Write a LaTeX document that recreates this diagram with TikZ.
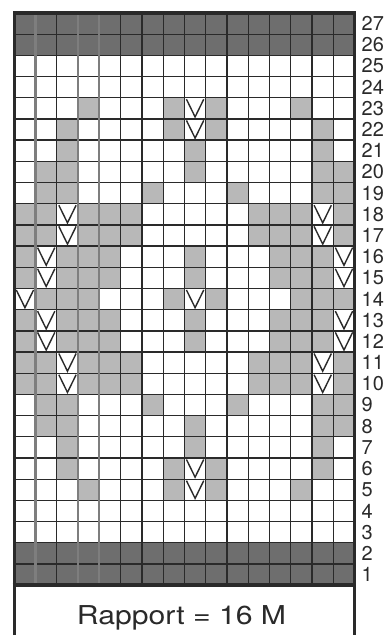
\documentclass[tikz,border=0pt]{standalone}
\usepackage{fontspec}
\setmainfont{TeX Gyre Heros}
\definecolor{darkrow}{HTML}{6E6E6E}
\definecolor{lightcell}{HTML}{B8B8B8}
\definecolor{gridline}{HTML}{2A2A2A}
\definecolor{bandline}{HTML}{7E7E7E}
\begin{document}
\begin{tikzpicture}[x=1pt,y={(0pt,-1pt)},
  graycell/.style={fill=lightcell},
  darkcell/.style={fill=darkrow},
  gridrule/.style={draw=gridline,line width=1.3pt},
  bandrule/.style={draw=bandline,line width=2.2pt},
  frame/.style={draw=gridline,line width=3.6pt},
  vmark/.style={draw=gridline,line width=1.4pt,line join=miter},
  rownum/.style={anchor=west,inner sep=0pt,font=\fontsize{20}{21}\selectfont,text=gridline},
  caption/.style={inner sep=0pt,font=\fontsize{26}{28}\selectfont,text=gridline}]
\def\xo{14.3}\def\yo{13}\def\cw{21.27}\def\ch{21.19}
\useasboundingbox (0,0) rectangle (388,640);
\fill[white] (0,0) rectangle (388,640);
% dark rows
\foreach \r in {1,2,26,27}{
  \pgfmathsetmacro\yt{\yo+(27-\r)*\ch}
  \fill[darkcell] (\xo,\yt) rectangle ({\xo+16*\cw},{\yt+\ch});
}
% light gray cells
\foreach \r/\cs in {
  23/{4,8,10,14}, 22/{3,8,10,15}, 21/{3,9,15}, 20/{2,3,9,15,16},
  19/{2,3,7,11,15,16}, 18/{1,2,4,5,6,12,13,14,16}, 17/{1,2,4,5,6,12,13,14,16},
  16/{1,3,4,5,9,13,14,15}, 15/{1,3,4,5,9,13,14,15},
  14/{2,3,4,8,10,14,15,16},
  13/{1,3,4,5,9,13,14,15}, 12/{1,3,4,5,9,13,14,15},
  11/{1,2,4,5,6,12,13,14,16}, 10/{1,2,4,5,6,12,13,14,16},
  9/{2,3,7,11,15,16}, 8/{2,3,9,15,16}, 7/{3,9,15},
  6/{3,8,10,15}, 5/{4,8,10,14}}{
  \foreach \c in \cs {
    \pgfmathsetmacro\xl{\xo+(\c-1)*\cw}
    \pgfmathsetmacro\yt{\yo+(27-\r)*\ch}
    \fill[graycell] (\xl,\yt) rectangle ({\xl+\cw},{\yt+\ch});
  }
}
% grid lines
\foreach \r in {1,...,26}{
  \pgfmathsetmacro\yy{\yo+\r*\ch}
  \draw[gridrule] (\xo,\yy) -- ({\xo+16*\cw},\yy);
}
\foreach \c in {2,5,6,7,8,9,10,11,12,13,14,15}{
  \pgfmathsetmacro\xx{\xo+\c*\cw}
  \draw[gridrule] (\xx,\yo) -- (\xx,{\yo+27*\ch});
}
\foreach \c in {1,3,4}{
  \pgfmathsetmacro\xx{\xo+\c*\cw}
  \draw[bandrule] (\xx,\yo) -- (\xx,{\yo+27*\ch});
}
% V marks
\foreach \r/\cs in {
  23/{9}, 22/{9}, 18/{3,15}, 17/{3,15}, 16/{2,16}, 15/{2,16},
  14/{1,9}, 13/{2,16}, 12/{2,16}, 11/{3,15}, 10/{3,15}, 6/{9}, 5/{9}}{
  \foreach \c in \cs {
    \pgfmathsetmacro\xl{\xo+(\c-1)*\cw}
    \pgfmathsetmacro\yt{\yo+(27-\r)*\ch}
    \draw[vmark] ({\xl+2},{\yt+1.5}) -- ({\xl+\cw/2},{\yt+\ch-2}) -- ({\xl+\cw-2},{\yt+1.5});
  }
}
% frame
\draw[frame,line join=miter] (\xo,635) -- (\xo,\yo) -- ({\xo+16*\cw},\yo) -- ({\xo+16*\cw},635);
\draw[frame] ({\xo-1.8},{\yo+27*\ch}) -- ({\xo+16*\cw+1.8},{\yo+27*\ch});
% row numbers
\foreach \r in {1,...,27}{
  \pgfmathsetmacro\yc{\yo+(27-\r+0.5)*\ch}
  \node[rownum] (n\r) at (361.5,\yc) {\r};
}
\node[caption] (rapport) at (181.5,618) {\scalebox{1.16}[1]{Rapport = 16 M}};
\end{tikzpicture}
\end{document}
